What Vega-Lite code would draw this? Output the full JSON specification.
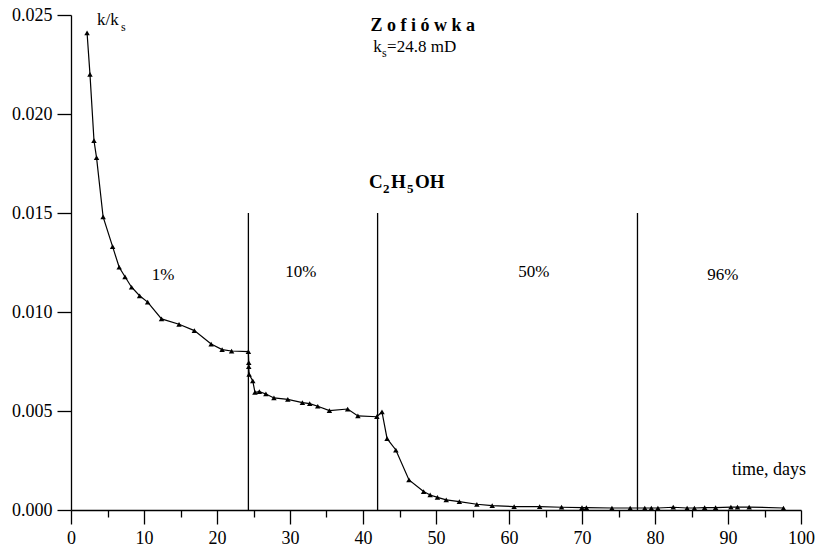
{
  "$schema": "https://vega.github.io/schema/vega-lite/v6.json",
  "width": 730,
  "height": 495,
  "autosize": {"type": "none"},
  "padding": {"left": 71, "top": 15, "right": 15, "bottom": 44},
  "background": "white",
  "config": {
    "view": {"stroke": null},
    "text": {"font": "Liberation Serif, Tinos, Times New Roman, DejaVu Serif, serif", "color": "black"}
  },
  "datasets": {
    "pts": [
      {"i": 1, "x": 2.2, "y": 0.0241},
      {"i": 2, "x": 2.6, "y": 0.0220},
      {"i": 3, "x": 3.15, "y": 0.01865},
      {"i": 4, "x": 3.5, "y": 0.0178},
      {"i": 5, "x": 4.4, "y": 0.0148},
      {"i": 6, "x": 5.7, "y": 0.0133},
      {"i": 7, "x": 6.6, "y": 0.01226},
      {"i": 8, "x": 7.4, "y": 0.01178},
      {"i": 9, "x": 8.3, "y": 0.01125},
      {"i": 10, "x": 9.4, "y": 0.01082},
      {"i": 11, "x": 10.5, "y": 0.0105},
      {"i": 12, "x": 12.4, "y": 0.00965},
      {"i": 13, "x": 14.8, "y": 0.00938},
      {"i": 14, "x": 16.9, "y": 0.00906},
      {"i": 15, "x": 19.2, "y": 0.00838},
      {"i": 16, "x": 20.7, "y": 0.0081},
      {"i": 17, "x": 22.0, "y": 0.00803},
      {"i": 18, "x": 24.3, "y": 0.0080},
      {"i": 19, "x": 24.35, "y": 0.00744},
      {"i": 20, "x": 24.35, "y": 0.00724},
      {"i": 21, "x": 24.4, "y": 0.00685},
      {"i": 22, "x": 24.9, "y": 0.00652},
      {"i": 23, "x": 25.2, "y": 0.00594},
      {"i": 24, "x": 25.8, "y": 0.00598},
      {"i": 25, "x": 26.7, "y": 0.00586},
      {"i": 26, "x": 27.8, "y": 0.00566},
      {"i": 27, "x": 29.7, "y": 0.00559},
      {"i": 28, "x": 31.7, "y": 0.00542},
      {"i": 29, "x": 32.7, "y": 0.00537},
      {"i": 30, "x": 33.8, "y": 0.00524},
      {"i": 31, "x": 35.4, "y": 0.00502},
      {"i": 32, "x": 37.9, "y": 0.0051},
      {"i": 33, "x": 39.3, "y": 0.00475},
      {"i": 34, "x": 41.9, "y": 0.00471},
      {"i": 35, "x": 42.6, "y": 0.00495},
      {"i": 36, "x": 43.3, "y": 0.0036},
      {"i": 37, "x": 44.5, "y": 0.00303},
      {"i": 38, "x": 46.3, "y": 0.00152},
      {"i": 39, "x": 48.3, "y": 0.00093},
      {"i": 40, "x": 49.2, "y": 0.00076},
      {"i": 41, "x": 50.2, "y": 0.00064},
      {"i": 42, "x": 51.4, "y": 0.00051},
      {"i": 43, "x": 53.2, "y": 0.00042},
      {"i": 44, "x": 55.6, "y": 0.00029},
      {"i": 45, "x": 57.7, "y": 0.00022},
      {"i": 46, "x": 60.7, "y": 0.00017},
      {"i": 47, "x": 64.2, "y": 0.00017},
      {"i": 48, "x": 67.2, "y": 0.00014},
      {"i": 49, "x": 70.0, "y": 0.00012},
      {"i": 50, "x": 70.6, "y": 0.00012},
      {"i": 51, "x": 74.1, "y": 0.0001},
      {"i": 52, "x": 76.6, "y": 0.0001},
      {"i": 53, "x": 78.6, "y": 0.0001},
      {"i": 54, "x": 79.5, "y": 0.0001},
      {"i": 55, "x": 80.4, "y": 0.0001},
      {"i": 56, "x": 82.5, "y": 0.00014},
      {"i": 57, "x": 84.4, "y": 0.0001},
      {"i": 58, "x": 85.4, "y": 0.0001},
      {"i": 59, "x": 86.8, "y": 0.00012},
      {"i": 60, "x": 88.3, "y": 0.00012},
      {"i": 61, "x": 90.4, "y": 0.00015},
      {"i": 62, "x": 91.3, "y": 0.00015},
      {"i": 63, "x": 92.9, "y": 0.00015},
      {"i": 64, "x": 97.6, "y": 0.0001}
    ],
    "phases": [
      {"x": 24.3, "y": 0, "y2": 0.015},
      {"x": 42.0, "y": 0, "y2": 0.015},
      {"x": 77.6, "y": 0, "y2": 0.015}
    ],
    "pct": [
      {"x": 12.6, "y": 0.01187, "t": "1%"},
      {"x": 31.5, "y": 0.01204, "t": "10%"},
      {"x": 63.4, "y": 0.01204, "t": "50%"},
      {"x": 89.3, "y": 0.01187, "t": "96%"}
    ],
    "bigsym": [
      {"x": 40.82, "y": 0.01657, "t": "C"},
      {"x": 43.84, "y": 0.01657, "t": "H"},
      {"x": 47.12, "y": 0.01657, "t": "OH"}
    ],
    "bigsub": [
      {"x": 42.74, "y": 0.0162, "t": "2"},
      {"x": 46.03, "y": 0.0162, "t": "5"}
    ],
    "main": [
      {"x": 3.56, "y": 0.02475, "t": "k/k"},
      {"x": 41.4, "y": 0.0234, "t": "k"},
      {"x": 43.3, "y": 0.0234, "t": "=24.8 mD"}
    ],
    "subs": [
      {"x": 6.85, "y": 0.0244, "t": "s"},
      {"x": 42.6, "y": 0.0231, "t": "s"}
    ],
    "title": [{"x": 48.2, "y": 0.02444, "t": "Z o f i ó w k a"}],
    "xlab": [{"x": 100.7, "y": 0.00202, "t": "time, days"}]
  },
  "encoding": {
    "x": {
      "field": "x",
      "type": "quantitative",
      "scale": {"domain": [0, 100], "nice": false, "zero": false},
      "axis": {
        "title": null,
        "values": [0, 5, 10, 15, 20, 25, 30, 35, 40, 45, 50, 55, 60, 65, 70, 75, 80, 85, 90, 95, 100],
        "labelExpr": "datum.value % 10 === 0 ? datum.label : ''",
        "grid": false,
        "domainColor": "black",
        "domainWidth": 1.3,
        "tickColor": "black",
        "tickWidth": 1.3,
        "tickSize": {"condition": {"test": "datum.value % 10 === 0", "value": 14}, "value": 7},
        "labelFont": "Liberation Serif, Tinos, Times New Roman, DejaVu Serif, serif",
        "labelFontSize": 18,
        "labelColor": "black",
        "labelPadding": 5,
        "labelFlush": false,
        "labelOverlap": false
      }
    },
    "y": {
      "field": "y",
      "type": "quantitative",
      "scale": {"domain": [0, 0.025], "nice": false},
      "axis": {
        "title": null,
        "values": [0, 0.005, 0.01, 0.015, 0.02, 0.025],
        "format": ".3f",
        "grid": false,
        "domainColor": "black",
        "domainWidth": 1.3,
        "tickColor": "black",
        "tickWidth": 1.3,
        "tickSize": 14,
        "labelFont": "Liberation Serif, Tinos, Times New Roman, DejaVu Serif, serif",
        "labelFontSize": 18,
        "labelColor": "black",
        "labelPadding": 5,
        "labelFlush": false,
        "labelOverlap": false
      }
    }
  },
  "layer": [
    {
      "data": {"name": "phases"},
      "mark": {"type": "rule", "color": "black", "strokeWidth": 1.3},
      "encoding": {"y2": {"field": "y2"}}
    },
    {
      "data": {"name": "pts"},
      "mark": {"type": "line", "color": "black", "strokeWidth": 1.2},
      "encoding": {"order": {"field": "i", "type": "quantitative"}}
    },
    {
      "data": {"name": "pts"},
      "mark": {"type": "point", "shape": "triangle-up", "filled": true, "color": "black", "size": 30, "opacity": 1}
    },
    {
      "data": {"name": "pct"},
      "mark": {"type": "text", "fontSize": 17, "align": "center", "baseline": "middle"},
      "encoding": {"text": {"field": "t"}}
    },
    {
      "data": {"name": "bigsym"},
      "mark": {"type": "text", "fontSize": 19, "fontWeight": "bold", "align": "left", "baseline": "middle"},
      "encoding": {"text": {"field": "t"}}
    },
    {
      "data": {"name": "bigsub"},
      "mark": {"type": "text", "fontSize": 13, "fontWeight": "bold", "align": "left", "baseline": "middle"},
      "encoding": {"text": {"field": "t"}}
    },
    {
      "data": {"name": "main"},
      "mark": {"type": "text", "fontSize": 17, "align": "left", "baseline": "middle"},
      "encoding": {"text": {"field": "t"}}
    },
    {
      "data": {"name": "subs"},
      "mark": {"type": "text", "fontSize": 12, "align": "left", "baseline": "middle"},
      "encoding": {"text": {"field": "t"}}
    },
    {
      "data": {"name": "title"},
      "mark": {"type": "text", "fontSize": 18, "fontWeight": "bold", "align": "center", "baseline": "middle"},
      "encoding": {"text": {"field": "t"}}
    },
    {
      "data": {"name": "xlab"},
      "mark": {"type": "text", "fontSize": 18, "align": "right", "baseline": "middle"},
      "encoding": {"text": {"field": "t"}}
    }
  ]
}
